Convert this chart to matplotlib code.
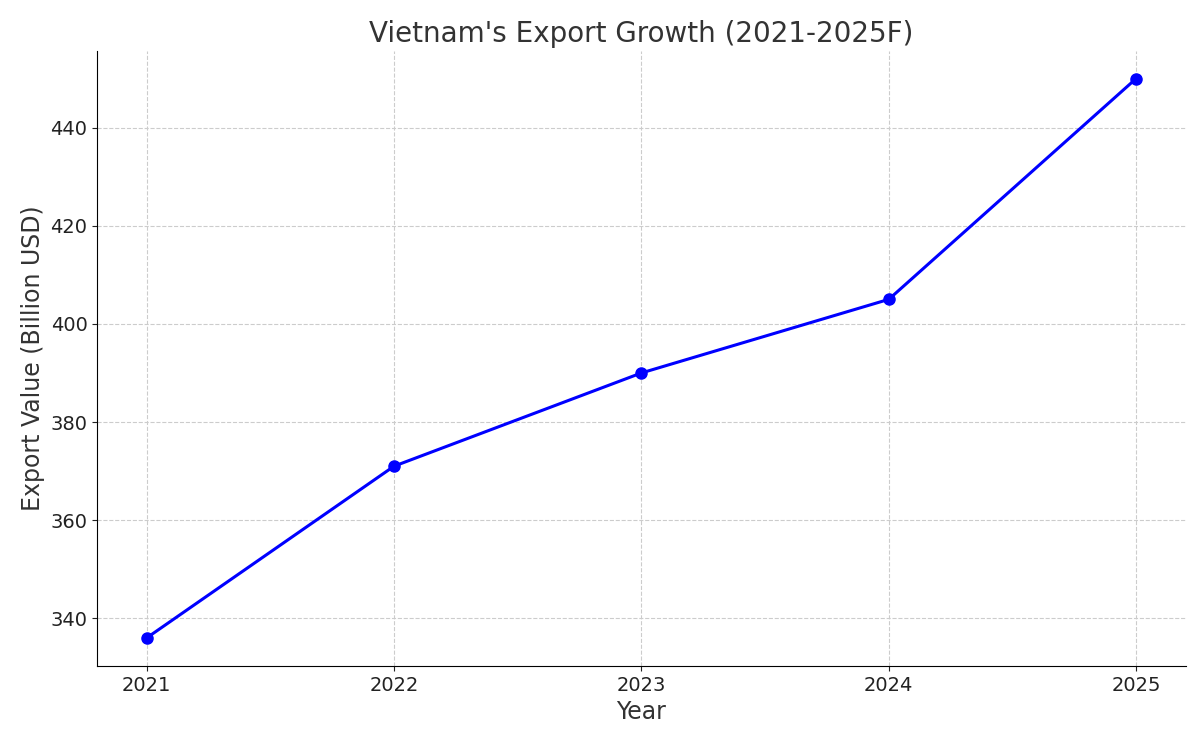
import matplotlib
matplotlib.use("Agg")
import matplotlib.pyplot as plt

years = [2021, 2022, 2023, 2024, 2025]
export_values = [336, 371, 390, 405, 450]

fig, ax = plt.subplots(figsize=(12, 7.44), dpi=100)
ax.plot(years, export_values, color='blue', marker='o', linewidth=2.2, markersize=8)

ax.set_title("Vietnam's Export Growth (2021-2025F)", fontsize=20, color='#333333')
ax.set_xlabel('Year', fontsize=17, color='#333333')
ax.set_ylabel('Export Value (Billion USD)', fontsize=17, color='#333333')
ax.set_xticks(years)
ax.tick_params(labelsize=14, colors='#222222')
ax.grid(True, linestyle='--', color='#cccccc', linewidth=0.8)
ax.spines['top'].set_visible(False)
ax.spines['right'].set_visible(False)

fig.subplots_adjust(left=0.081, right=0.988, top=0.932, bottom=0.105)
fig.savefig('out.png', dpi=100)
